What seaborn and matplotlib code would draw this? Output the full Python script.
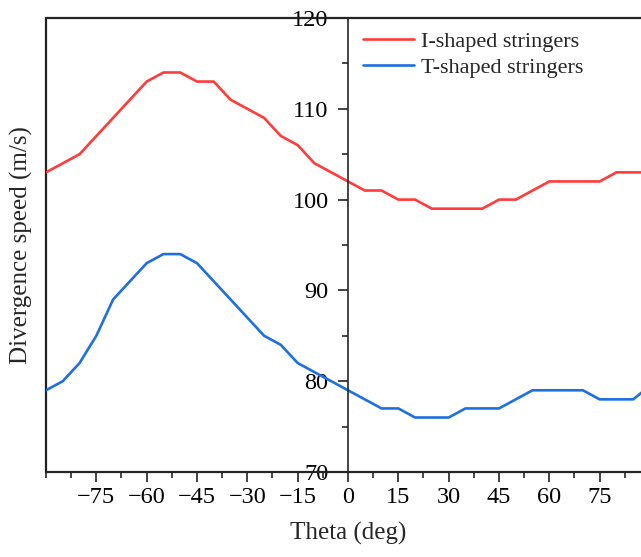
import numpy as np
import pandas as pd
import matplotlib
matplotlib.use('Agg')
import matplotlib.pyplot as plt
from matplotlib.ticker import MultipleLocator
import seaborn as sns

# theta every 5 deg
theta = list(range(-90, 91, 5))
i_shaped = [103, 104, 105, 107, 109, 111, 113, 114, 114, 113, 113, 111, 110, 109, 107, 106, 104, 103,
            102, 101, 101, 100, 100, 99, 99, 99, 99, 100, 100, 101, 102, 102, 102, 102, 103, 103, 103]
t_shaped = [79, 80, 82, 85, 89, 91, 93, 94, 94, 93, 91, 89, 87, 85, 84, 82, 81, 80,
            79, 78, 77, 77, 76, 76, 76, 77, 77, 77, 78, 79, 79, 79, 79, 78, 78, 78, 79.5]
xtick_vals = [-75, -60, -45, -30, -15, 0, 15, 30, 45, 60, 75]

df = pd.DataFrame({
    'theta': theta * 2,
    'speed': i_shaped + t_shaped,
    'kind': ['I-shaped stringers'] * len(theta) + ['T-shaped stringers'] * len(theta),
})

sns.set_style('ticks')
plt.rcParams['font.family'] = ['Liberation Serif', 'DejaVu Serif']

fig = plt.figure(figsize=(6.41, 5.57), dpi=100)
ax = fig.add_axes([46 / 641, 85 / 557, 604 / 641, 454 / 557])

sns.lineplot(data=df, x='theta', y='speed', hue='kind',
             palette=['#FF3B3B', '#1E6FE0'], linewidth=1.9, ax=ax)

ax.set_xlim(-90, 90)
ax.set_ylim(70, 120)

# y axis sits at theta = 0, outer frame drawn by the axes patch
ax.spines['left'].set_position(('data', 0))
for s in ax.spines.values():
    s.set_linewidth(1.2)
ax.patch.set_edgecolor('#222222')
ax.patch.set_linewidth(1.6)

ax.set_xticks(xtick_vals)
ax.xaxis.set_minor_locator(MultipleLocator(7.5))
ax.yaxis.set_major_locator(MultipleLocator(10))
ax.yaxis.set_minor_locator(MultipleLocator(5))
ax.tick_params(which='major', direction='out', length=7, width=1.2, labelsize=17.5, colors='#222222')
ax.tick_params(which='minor', direction='out', length=4, width=1.2)
ax.tick_params(axis='x', pad=4)
ax.tick_params(axis='y', pad=7)
for lab in ax.get_xticklabels() + ax.get_yticklabels():
    lab.set_color('black')

ax.set_xlabel('Theta (deg)', fontsize=18, labelpad=10)
ax.set_ylabel('Divergence speed (m/s)', fontsize=18)
ax.yaxis.set_label_coords(-0.022, 0.5)

leg = ax.legend(loc='upper left', bbox_to_anchor=(0.492, 1.015), frameon=False,
                fontsize=16, handlelength=2.3, labelspacing=0.25, handletextpad=0.3)

plt.savefig('out.png', dpi=100)
